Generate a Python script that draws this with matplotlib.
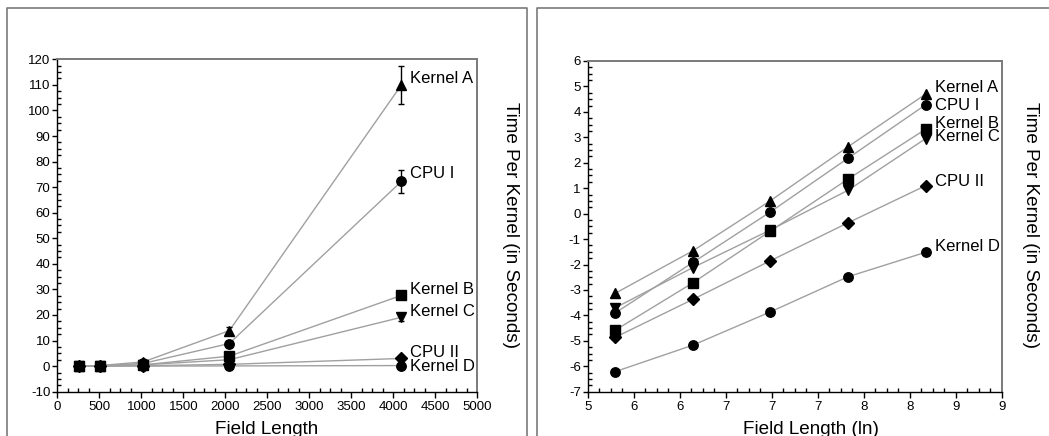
import numpy as np
import matplotlib
matplotlib.use("Agg")
import matplotlib.pyplot as plt
from matplotlib.ticker import MultipleLocator, FixedLocator, FuncFormatter
from matplotlib.lines import Line2D

plt.rcParams['font.family'] = ['Liberation Sans', 'DejaVu Sans']
plt.rcParams['axes.unicode_minus'] = False

# Field lengths used in the benchmark
field_length = [256, 512, 1024, 2048, 4096]

series_names = ["Kernel A", "CPU I", "Kernel B", "Kernel C", "CPU II", "Kernel D"]

# ln(time per kernel in seconds) for each series
ln_kernel_a = [-3.13, -1.46, 0.51, 2.63, 4.70]
ln_cpu_1 = [-3.90, -1.92, 0.07, 2.18, 4.28]
ln_kernel_b = [-4.58, -2.72, -0.68, 1.36, 3.32]
ln_kernel_c = [-3.70, -2.12, -0.64, 0.92, 2.95]
ln_cpu_2 = [-4.86, -3.37, -1.85, -0.36, 1.10]
ln_kernel_d = [-6.21, -5.17, -3.86, -2.48, -1.52]

# Standard deviation of the measured times (seconds)
err_kernel_a = [0.6, 0.6, 0.8, 1.5, 7.3]
err_cpu_1 = [0.6, 0.6, 0.8, 1.0, 4.6]
err_kernel_b = [0.6, 0.6, 0.8, 1.0, 1.6]
err_kernel_c = [0.6, 0.6, 0.8, 0.8, 1.5]
err_cpu_2 = [0.6, 0.6, 0.8, 0.6, 0.6]
err_kernel_d = [0.6, 0.6, 0.8, 0.6, 0.4]

ln_series = [ln_kernel_a, ln_cpu_1, ln_kernel_b, ln_kernel_c, ln_cpu_2, ln_kernel_d]
err_series = [err_kernel_a, err_cpu_1, err_kernel_b, err_kernel_c, err_cpu_2, err_kernel_d]

# Where each series name sits next to the last point
label_y_linear = [112.3, 75.2, 29.8, 21.5, 5.5, 0.0]
label_y_log = [4.96, 4.26, 3.55, 3.02, 1.25, -1.30]

markers = ["^", "o", "s", "v", "D", "o"]
msizes = [7.8, 6.8, 6.8, 7.8, 6.3, 6.8]

W, H = 1049, 436
fig = plt.figure(figsize=(W / 100, H / 100), dpi=100)


def fx(px):
    return px / W


def fy(py):
    return 1 - py / H


# Panel frames
frame_kw = dict(color="#7a7a7a", lw=1.2, transform=fig.transFigure)
fig.add_artist(Line2D([fx(6.5), fx(6.5), fx(527.3), fx(527.3)],
                      [fy(440), fy(8.3), fy(8.3), fy(440)], **frame_kw))
fig.add_artist(Line2D([fx(537.3), fx(537.3), fx(1060)],
                      [fy(440), fy(8.3), fy(8.3)], **frame_kw))

ax1 = fig.add_axes([fx(57.3), fy(391.7), fx(420.0), (391.7 - 59.3) / H])
ax2 = fig.add_axes([fx(587.7), fy(391.7), fx(414.3), (391.7 - 61.0) / H])

line_color = "#a0a0a0"
tick_fs = 9.5
name_fs = 12.0
title_fs = 13.6


def style_axes(ax):
    for side in ("top", "right"):
        ax.spines[side].set_color("#7a7a7a")
        ax.spines[side].set_linewidth(1.4)
    for side in ("left", "bottom"):
        ax.spines[side].set_color("black")
        ax.spines[side].set_linewidth(1.0)
    ax.tick_params(which="major", direction="out", length=3.5, width=1,
                   labelsize=tick_fs, pad=1.5, top=False, right=False)
    ax.tick_params(which="minor", direction="in", length=3, width=1,
                   top=False, right=False)
    ax.tick_params(axis="x", which="major", length=4, pad=3)


# Linear panel
for ln_vals, errs, m, ms in zip(ln_series, err_series, markers, msizes):
    secs = np.exp(ln_vals)
    ax1.plot(field_length, secs, color=line_color, lw=1.0, zorder=2)
    ax1.errorbar(field_length, secs, yerr=errs, fmt="none", ecolor="black",
                 elinewidth=1.0, capsize=2.0, capthick=1.0, zorder=3)
    ax1.plot(field_length, secs, linestyle="none", marker=m, ms=ms,
             color="black", zorder=4)

for name, ly in zip(series_names, label_y_linear):
    ax1.annotate(name, xy=(field_length[-1], ly), xytext=(6.5, 0),
                 textcoords="offset points", va="center", ha="left",
                 fontsize=name_fs)

ax1.set_xlim(0, 5000)
ax1.set_ylim(-10, 120)
ax1.xaxis.set_major_locator(MultipleLocator(500))
ax1.xaxis.set_minor_locator(MultipleLocator(125))
ax1.yaxis.set_major_locator(MultipleLocator(10))
ax1.yaxis.set_minor_locator(MultipleLocator(2.5))
style_axes(ax1)

# Natural-log panel
ln_x = np.log(field_length)
for ln_vals, m, ms in zip(ln_series, markers, msizes):
    ax2.plot(ln_x, ln_vals, color=line_color, lw=1.0, zorder=2)
    ax2.plot(ln_x, ln_vals, linestyle="none", marker=m, ms=ms,
             color="black", zorder=4)

for name, ly in zip(series_names, label_y_log):
    ax2.annotate(name, xy=(ln_x[-1], ly), xytext=(6.5, 0),
                 textcoords="offset points", va="center", ha="left",
                 fontsize=name_fs)

x_lo, x_hi = np.log(200), 9.0
ax2.set_xlim(x_lo, x_hi)
ax2.set_ylim(-7, 6)
ax2.xaxis.set_major_locator(FixedLocator(np.linspace(x_lo, x_hi, 10)))
ax2.xaxis.set_minor_locator(FixedLocator(np.linspace(x_lo, x_hi, 37)))
ax2.xaxis.set_major_formatter(FuncFormatter(lambda v, p: "%.0f" % v))
ax2.yaxis.set_major_locator(MultipleLocator(1))
ax2.yaxis.set_minor_locator(MultipleLocator(0.25))
style_axes(ax2)

# Axis titles
ylab = "Time Per Kernel (in Seconds)"
fig.text(fx(510), fy(225), ylab, rotation=270, ha="center", va="center",
         fontsize=title_fs)
fig.text(fx(1030), fy(225), ylab, rotation=270, ha="center", va="center",
         fontsize=title_fs)
fig.text(fx(267), fy(429), "Field Length", ha="center", va="center",
         fontsize=title_fs)
fig.text(fx(811), fy(429), "Field Length (ln)", ha="center", va="center",
         fontsize=title_fs)

fig.savefig("out.png", dpi=100)
